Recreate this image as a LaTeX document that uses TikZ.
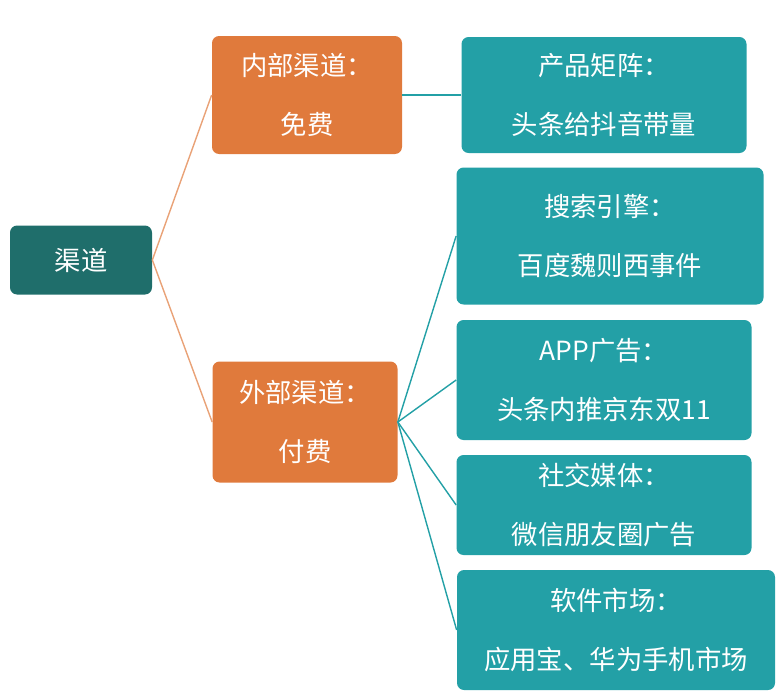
\documentclass[tikz,border=0pt]{standalone}
\usepackage{fontspec}
\setmainfont{Noto Sans CJK SC}
\usetikzlibrary{positioning}
\definecolor{rootc}{HTML}{1F6E6B}
\definecolor{orangec}{HTML}{E07A3C}
\definecolor{tealc}{HTML}{23A0A6}
\begin{document}
\begin{tikzpicture}[x=0.02cm, y=-0.02cm,
    box/.style={rounded corners=4pt, text=white, align=center, inner sep=0pt,
      font=\fontsize{15}{34}\selectfont},
    rootbox/.style={box, fill=rootc, minimum width=142*0.02cm, minimum height=69*0.02cm},
    midbox/.style={box, fill=orangec, minimum width=190*0.02cm, minimum height=118*0.02cm},
    leafbox/.style={box, fill=tealc, minimum height=112*0.02cm},
    link/.style={thick, orangec!70},
    tlink/.style={thick, tealc}]
  \useasboundingbox (0,0) rectangle (778,697);
  \node[rootbox] (root) at (81,260) {渠道};
  \node[midbox] (inner) at (307,95) {内部渠道：\\免费};
  \node[midbox, minimum width=185*0.02cm, minimum height=121*0.02cm] (outer) at (305,422) {外部渠道：\\付费};
  \node[leafbox, minimum width=285*0.02cm, minimum height=116*0.02cm] (matrix) at (604,95) {产品矩阵：\\头条给抖音带量};
  \node[leafbox, minimum width=307*0.02cm, minimum height=137*0.02cm] (search) at (610,236) {搜索引擎：\\百度魏则西事件};
  \node[leafbox, minimum width=295*0.02cm, minimum height=120*0.02cm] (app) at (604,380) {APP广告：\\头条内推京东双11};
  \node[leafbox, minimum width=295*0.02cm, minimum height=100*0.02cm] (social) at (604,505) {社交媒体：\\微信朋友圈广告};
  \node[leafbox, minimum width=318*0.02cm, minimum height=120*0.02cm] (store) at (616,630) {软件市场：\\应用宝、华为手机市场};
  % connectors
  \draw[link] (root.east) -- (inner.west);
  \draw[link] (root.east) -- (outer.west);
  \draw[tlink] (inner.east) -- (matrix.west);
  \foreach \leaf in {search, app, social, store}
    \draw[tlink] (outer.east) -- (\leaf.west);
\end{tikzpicture}
\end{document}
